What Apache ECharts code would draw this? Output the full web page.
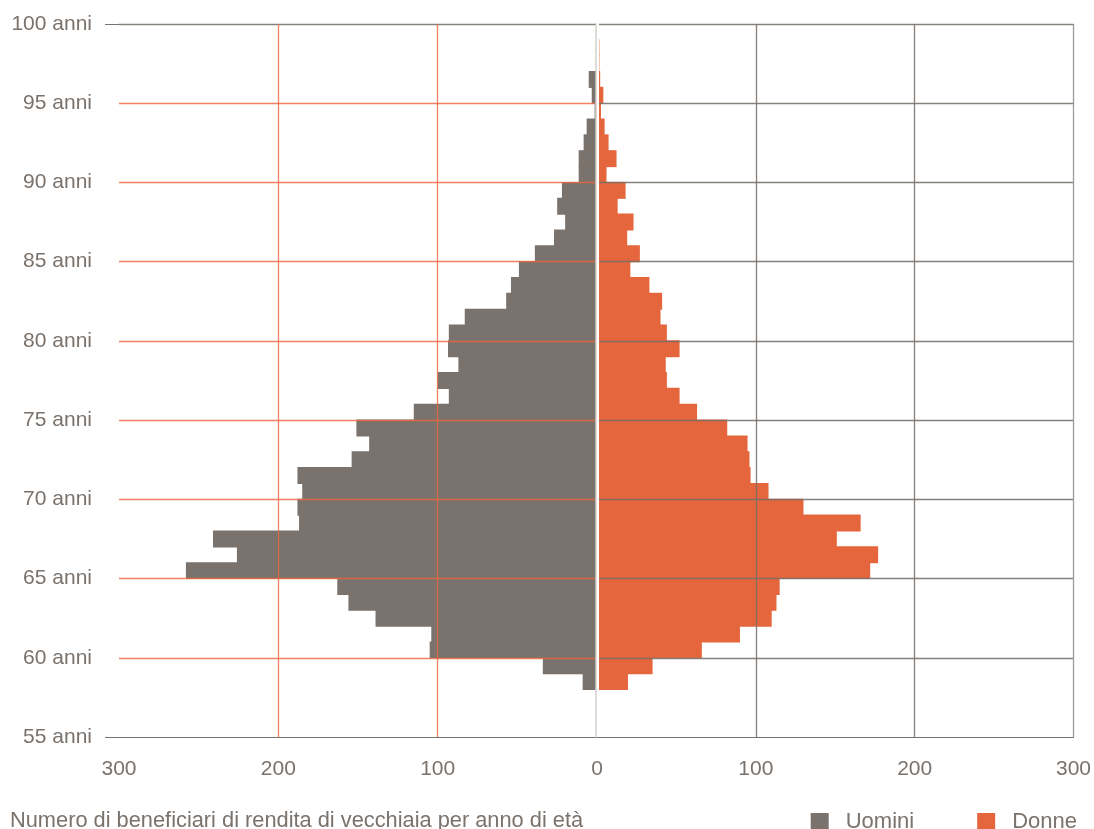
<!DOCTYPE html>
<html>
<head>
<meta charset="utf-8">
<script src="https://cdn.jsdelivr.net/npm/echarts@6/dist/echarts.min.js"></script>
<style>
  html, body { margin: 0; padding: 0; background: #ffffff; }
  #chart { width: 1094px; height: 829px; }
</style>
</head>
<body>
<div id="chart"></div>
<script>
// Age categories (one band per year, 55..99)
const ages = [55,56,57,58,59,60,61,62,63,64,65,66,67,68,69,70,71,72,73,74,75,76,77,78,79,80,81,82,83,84,85,86,87,88,89,90,91,92,93,94,95,96,97,98,99];

// Uomini (men), per age above
const men = [null,null,null,
  9,34,105,104,139,156,163,258,226,241,187,188,185,188,154,143,151,115,93,100,87,93.5,
  93,83,57,54,49,39,27,20,25,22,11.5,11.5,8.4,6.5,1.5,3.3,5.2,
  null,null,null];

// Donne (women), per age above
const women = [null,null,null,
  19.5,35,66,90,110,113,115,172,177,151,166,130,108,96.7,96,94.8,82,63,52,44,43.3,52,
  44,40,41,33,21,27,19,23,13,18,6,12.3,7.3,4.8,2.5,4,2,1.5,1.5,
  null];

// Axis ranges / ticks
const ageMin = 55, ageMax = 100, ageStep = 5;
const countMax = 300, countStep = 100;
const seriesNames = ['Uomini', 'Donne'];
const caption = 'Numero di beneficiari di rendita di vecchiaia per anno di età';

const GRAY = '#7a726c';
const ORANGE = '#e5663d';
const TEXT = '#7a726c';
const LINE_OR = 'rgba(236,104,62,0.82)';
const LINE_GR = 'rgba(118,111,106,0.88)';
const NONE = 'rgba(0,0,0,0)';
const FONT = 'Liberation Sans';

const chart = echarts.init(document.getElementById('chart'), null, { renderer: 'canvas' });

const catLabels = ages.map(a => String(a));

const option = {
  backgroundColor: '#ffffff',
  animation: false,
  textStyle: { fontFamily: FONT, color: TEXT },
  title: {
    text: caption,
    left: 10,
    top: 810,
    padding: 0,
    textStyle: { fontFamily: FONT, fontSize: 21.8, fontWeight: 'normal', color: TEXT }
  },
  legend: {
    data: seriesNames,
    right: 17,
    top: 811,
    padding: 0,
    icon: 'rect',
    itemWidth: 18,
    itemHeight: 18,
    itemGap: 63,
    textStyle: { fontFamily: FONT, fontSize: 22, color: TEXT, padding: [0, 0, 0, 12] }
  },
  grid: [
    { left: 119, right: 497, top: 24, bottom: 92 },
    { left: 597, right: 19, top: 24, bottom: 92 }
  ],
  xAxis: [
    {
      gridIndex: 0, type: 'value', inverse: true,
      min: 0, max: countMax, interval: countStep, z: 3,
      axisLine: { show: true, lineStyle: { color: GRAY, width: 1 } },
      axisTick: { show: false },
      axisLabel: { color: TEXT, fontFamily: FONT, fontSize: 21, margin: 22 },
      splitLine: { show: true, lineStyle: { color: [NONE, LINE_OR, LINE_OR, NONE], width: 1.3 } }
    },
    {
      gridIndex: 1, type: 'value',
      min: 0, max: countMax, interval: countStep, z: 3,
      axisLine: { show: true, lineStyle: { color: GRAY, width: 1 } },
      axisTick: { show: false },
      axisLabel: { color: TEXT, fontFamily: FONT, fontSize: 21, margin: 22,
        formatter: v => (v === 0 ? '' : String(v)) },
      splitLine: { show: true, lineStyle: { color: [NONE, LINE_GR, LINE_GR, 'rgba(150,145,140,0.9)'], width: 1.3 } }
    }
  ],
  yAxis: [
    {
      gridIndex: 0, type: 'value', position: 'left',
      min: ageMin, max: ageMax, interval: ageStep, z: 3,
      axisLine: { show: true, lineStyle: { color: GRAY, width: 1 } },
      axisTick: { show: false },
      axisLabel: { color: TEXT, fontFamily: FONT, fontSize: 21, margin: 27, formatter: '{value} anni' },
      splitLine: { show: true, lineStyle: {
        color: [NONE, LINE_OR, LINE_OR, LINE_OR, LINE_OR, LINE_OR, LINE_OR, LINE_OR, LINE_OR, LINE_GR],
        width: 1.3 } }
    },
    {
      gridIndex: 0, type: 'category', data: catLabels, position: 'right', offset: -1.25, z: 4,
      boundaryGap: true,
      axisLine: { show: true, lineStyle: { color: '#d3cfcb', width: 1.5 } },
      axisTick: { show: false }, axisLabel: { show: false }, splitLine: { show: false }
    },
    {
      gridIndex: 1, type: 'value', position: 'left', offset: -0.5,
      min: ageMin, max: ageMax, interval: ageStep, z: 3,
      axisLine: { show: true, onZero: false, lineStyle: { color: '#ffffff', width: 3 } },
      axisTick: { show: false },
      axisLabel: { show: false },
      splitLine: { show: true, lineStyle: {
        color: [NONE, LINE_GR, LINE_GR, LINE_GR, LINE_GR, LINE_GR, LINE_GR, LINE_GR, LINE_GR, LINE_GR],
        width: 1.3 } }
    },
    {
      gridIndex: 1, type: 'category', data: catLabels, show: false, boundaryGap: true
    },
    {
      // outward end ticks at 55 and 100 only
      gridIndex: 0, type: 'value', position: 'left',
      min: ageMin, max: ageMax, interval: ageStep, z: 3,
      axisLine: { show: false },
      axisLabel: { show: false },
      splitLine: { show: false },
      axisTick: { show: true, length: 14, customValues: [ageMin, ageMax], lineStyle: { color: GRAY, width: 1 } }
    }
  ],
  series: [
    {
      name: seriesNames[0], type: 'bar',
      xAxisIndex: 0, yAxisIndex: 1,
      data: men, barWidth: '107%',
      itemStyle: { color: GRAY }, z: 2
    },
    {
      name: seriesNames[1], type: 'bar',
      xAxisIndex: 1, yAxisIndex: 3,
      data: women, barWidth: '107%',
      itemStyle: { color: ORANGE }, z: 2
    }
  ]
};

chart.setOption(option);
</script>
</body>
</html>
